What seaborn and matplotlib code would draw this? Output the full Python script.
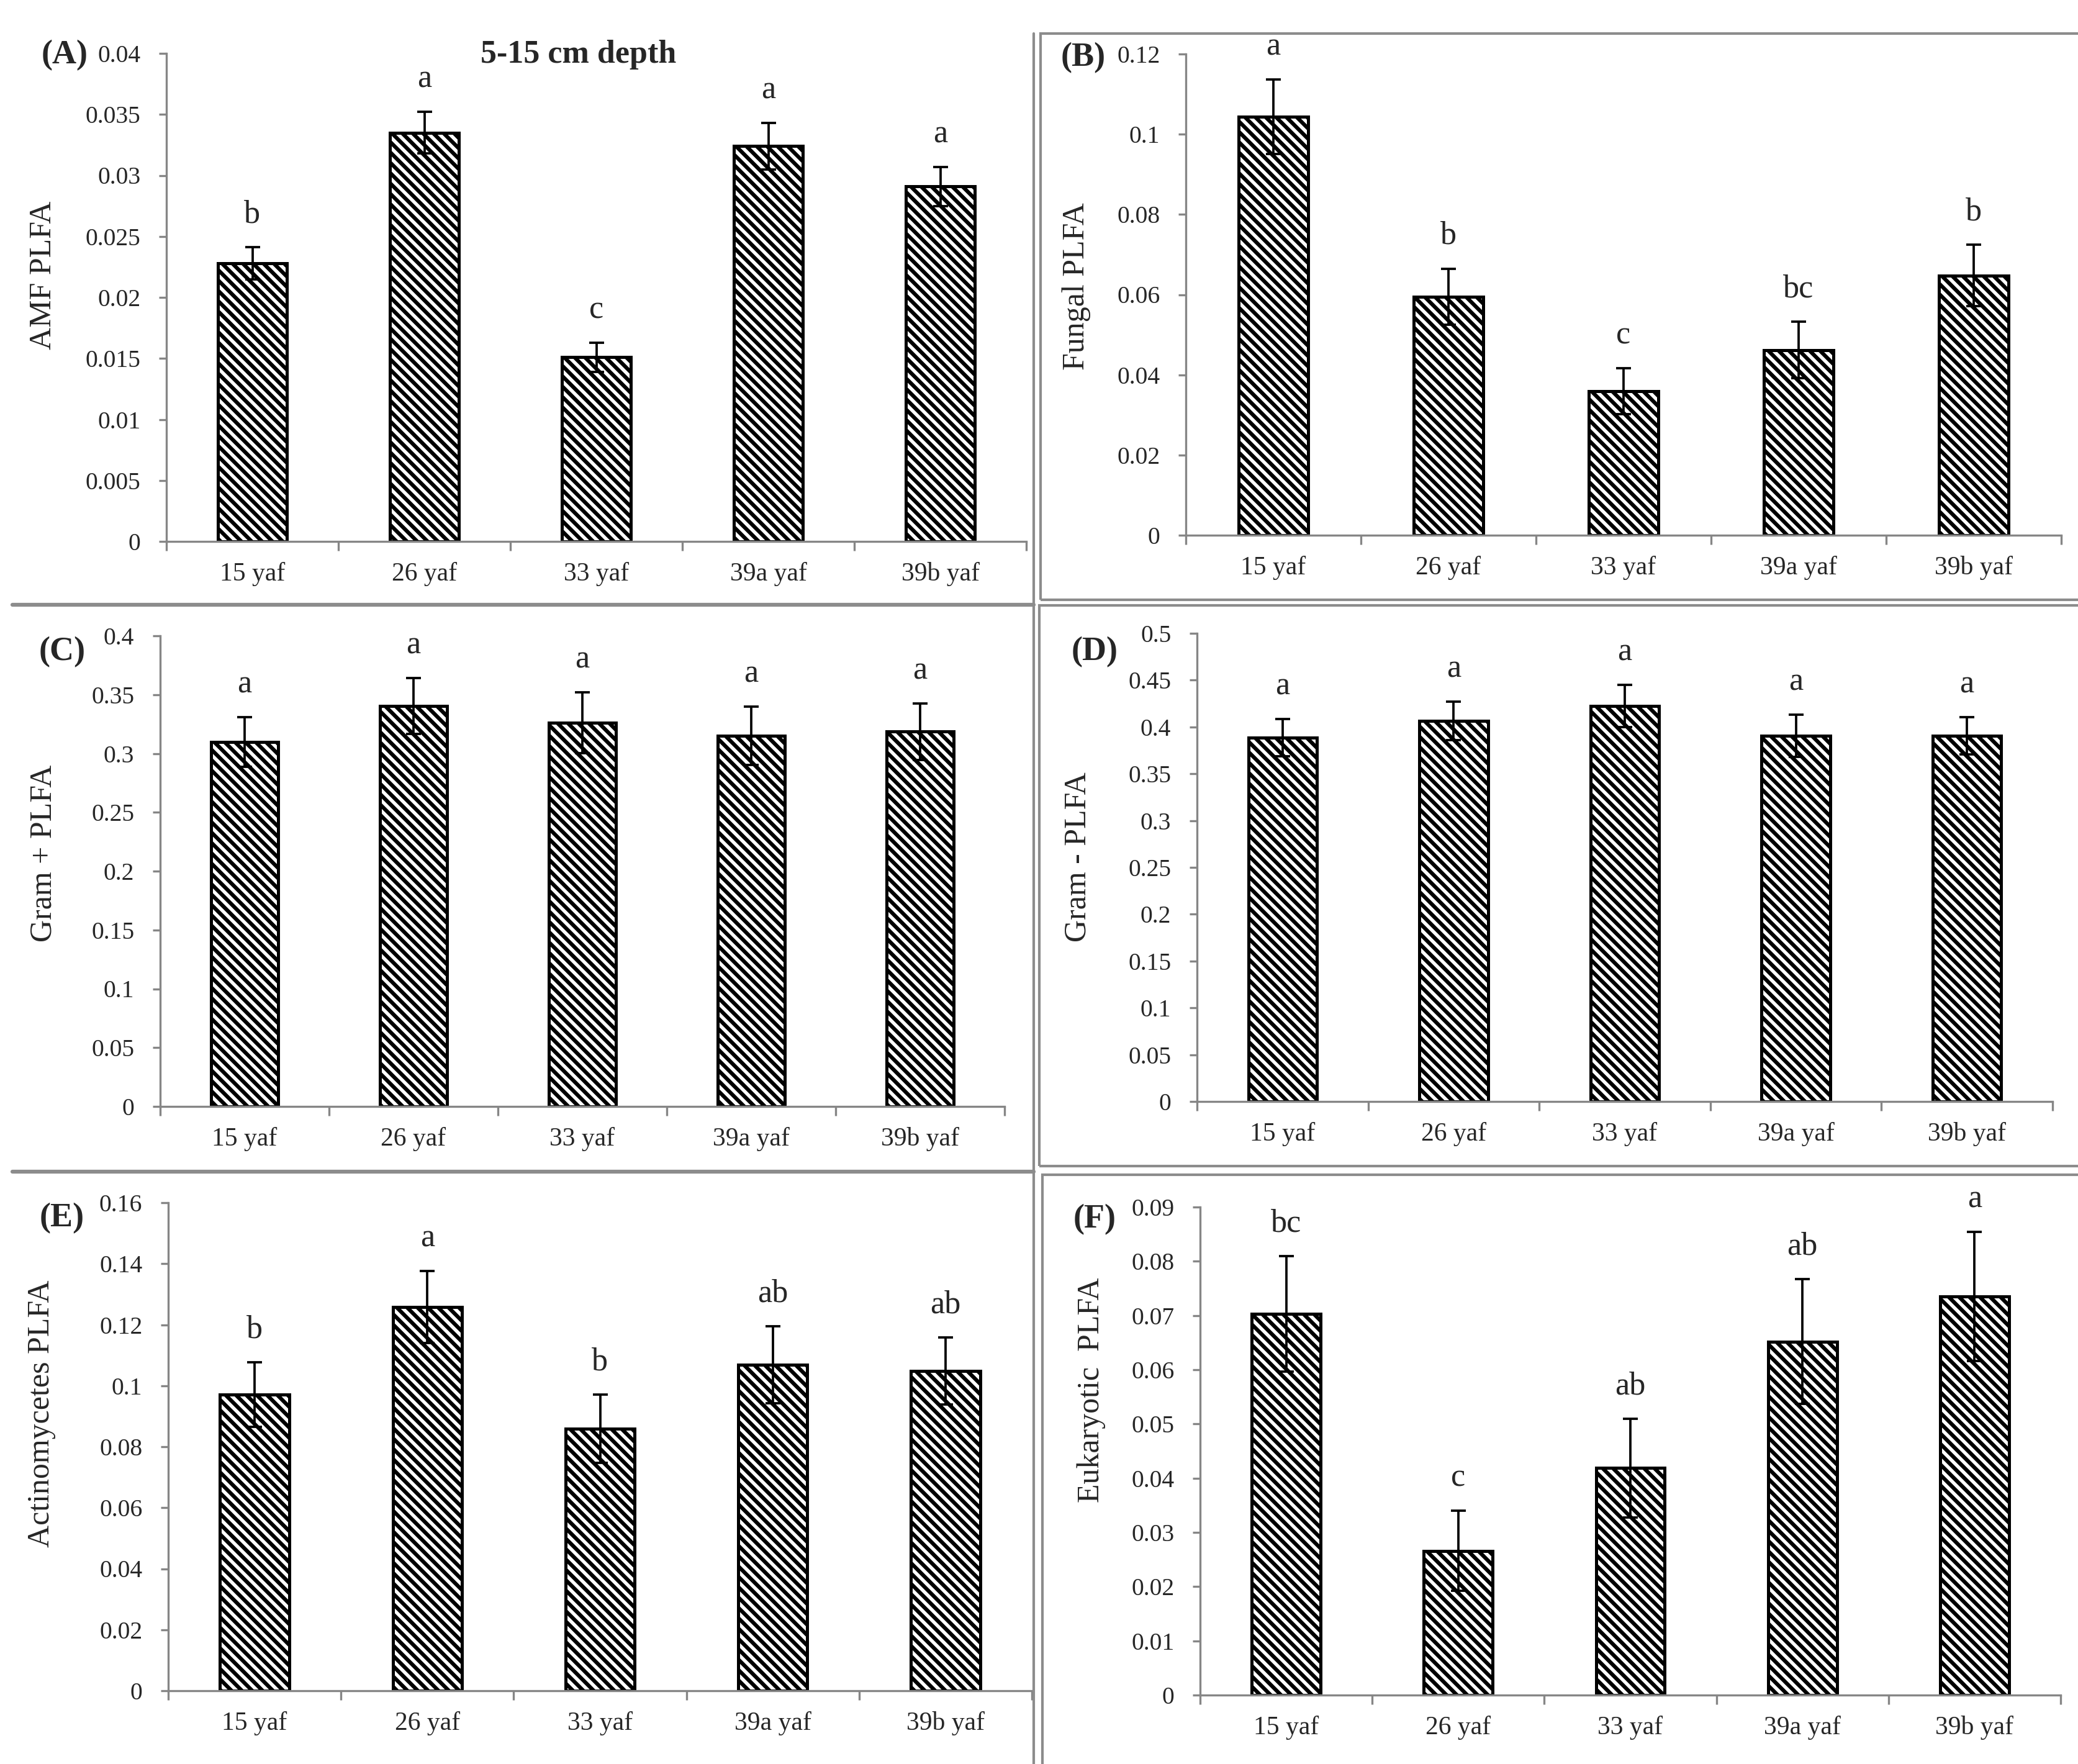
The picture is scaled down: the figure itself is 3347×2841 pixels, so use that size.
import numpy as np
import pandas as pd
import seaborn as sns
import matplotlib.pyplot as plt
from matplotlib.lines import Line2D
from matplotlib.patches import Rectangle
from matplotlib.ticker import FuncFormatter

# Categorias (anos despues de la forestacion)
categorias = ["15 yaf", "26 yaf", "33 yaf", "39a yaf", "39b yaf"]

# Valores (media y error)
amf = [0.0228, 0.0335, 0.0151, 0.0324, 0.0291]
amf_err = [0.0013, 0.0017, 0.0012, 0.0019, 0.0016]
amf_letras = ["b", "a", "c", "a", "a"]

fungal = [0.1044, 0.0595, 0.0359, 0.0462, 0.0648]
fungal_err = [0.0093, 0.0070, 0.0057, 0.0070, 0.0077]
fungal_letras = ["a", "b", "c", "bc", "b"]

gram_pos = [0.3098, 0.3404, 0.3261, 0.3150, 0.3185]
gram_pos_err = [0.0211, 0.0237, 0.0259, 0.0248, 0.0239]
gram_pos_letras = ["a", "a", "a", "a", "a"]

gram_neg = [0.3886, 0.4065, 0.4224, 0.3906, 0.3906]
gram_neg_err = [0.0199, 0.0206, 0.0226, 0.0228, 0.0199]
gram_neg_letras = ["a", "a", "a", "a", "a"]

actino = [0.0971, 0.1258, 0.0859, 0.1069, 0.1048]
actino_err = [0.0105, 0.0118, 0.0112, 0.0126, 0.0110]
actino_letras = ["b", "a", "b", "ab", "ab"]

euk = [0.0703, 0.0266, 0.0419, 0.0652, 0.0735]
euk_err = [0.0107, 0.0074, 0.0091, 0.0115, 0.0119]
euk_letras = ["bc", "c", "ab", "ab", "a"]

W, H = 3347, 2841
DPI = 300
GRIS = "#868686"
BORDE = "#8c8c8c"
HATCH = "\\" * 6

sns.set_theme(style="white")
plt.rcParams['font.family'] = ['Liberation Serif', 'DejaVu Serif']
plt.rcParams['hatch.linewidth'] = 1.5
plt.rcParams['hatch.color'] = 'black'


def fx(px):
    return px / W


def fy(py):
    return 1 - py / H


# (etiqueta, valores, errores, letras, eje y, ymax, paso, caja en px, pos etiqueta, pos ylabel)
paneles = [
    ("(A)", amf, amf_err, amf_letras, "AMF PLFA", 0.04, 0.005,
     (268, 86, 1653, 872), (104, 89), (70, 443)),
    ("(B)", fungal, fungal_err, fungal_letras, "Fungal PLFA", 0.12, 0.02,
     (1910, 87, 3320, 862), (1745, 93), (1734, 461)),
    ("(C)", gram_pos, gram_pos_err, gram_pos_letras, "Gram + PLFA", 0.4, 0.05,
     (258, 1024, 1618, 1782), (100, 1050), (70, 1374)),
    ("(D)", gram_neg, gram_neg_err, gram_neg_letras, "Gram - PLFA", 0.5, 0.05,
     (1928, 1020, 3306, 1774), (1763, 1050), (1736, 1380)),
    ("(E)", actino, actino_err, actino_letras, "Actinomycetes PLFA", 0.16, 0.02,
     (271, 1937, 1662, 2723), (100, 1962), (67, 2277)),
    ("(F)", euk, euk_err, euk_letras, "Eukaryotic  PLFA", 0.09, 0.01,
     (1933, 1944, 3319, 2730), (1763, 1964), (1758, 2239)),
]

fig = plt.figure(figsize=(W / DPI, H / DPI), dpi=DPI)

for etiqueta, vals, errs, letras, ylab, ymax, paso, caja, pos_lab, pos_ylab in paneles:
    l, t, r, b = caja
    ax = fig.add_axes([fx(l), fy(b), (r - l) / W, (b - t) / H])
    df = pd.DataFrame({"cat": categorias, "val": vals})
    sns.barplot(data=df, x="cat", y="val", color="white", saturation=1,
                edgecolor="black", linewidth=1.2, width=0.4, hatch=HATCH,
                errorbar=None, ax=ax)
    ax.errorbar(range(len(vals)), vals, yerr=errs, fmt="none", ecolor="black",
                elinewidth=0.9, capsize=2.9, capthick=0.9, zorder=5)
    for i, (v, e, letra) in enumerate(zip(vals, errs, letras)):
        ax.annotate(letra, xy=(i, v + e), xytext=(0, 9.5), textcoords="offset points",
                    ha="center", va="baseline", fontsize=12.5)

    ax.set_xlim(-0.5, len(vals) - 0.5)
    ax.set_ylim(0, ymax)
    ax.set_yticks(np.arange(0, ymax + paso / 2, paso))
    ax.yaxis.set_major_formatter(FuncFormatter(lambda v, _: f"{round(v, 6):g}"))
    ax.set_xticks(np.arange(-0.5, len(vals), 1), minor=True)
    sns.despine(ax=ax)
    for s in ("left", "bottom"):
        ax.spines[s].set_color(GRIS)
        ax.spines[s].set_linewidth(0.8)
    ax.tick_params(axis="y", direction="out", length=3, width=0.8, color=GRIS,
                   pad=7, labelsize=9.5, left=True)
    ax.tick_params(axis="x", which="major", length=0, pad=8, labelsize=10)
    ax.tick_params(axis="x", which="minor", direction="out", length=3.5, width=0.8,
                   color=GRIS, bottom=True)
    ax.set_xlabel("")
    ax.set_ylabel(ylab, fontsize=12, ha="center", va="center")
    ax.yaxis.set_label_coords((pos_ylab[0] - l) / (r - l), (b - pos_ylab[1]) / (b - t))

    fig.text(fx(pos_lab[0]), fy(pos_lab[1]), etiqueta, fontsize=13,
             fontweight="bold", ha="center", va="center")

fig.text(fx(932), fy(88), "5-15 cm depth", fontsize=12.5, fontweight="bold",
         ha="center", va="center")

# Bordes de los paneles (estilo Excel)
fig.add_artist(Line2D([fx(1665), fx(1665)], [fy(54), fy(H + 10)], color=BORDE,
                      lw=1.0, transform=fig.transFigure))
for yy in (974, 1887):
    fig.add_artist(Line2D([fx(20), fx(1665)], [fy(yy), fy(yy)], color=BORDE,
                          lw=1.5, transform=fig.transFigure))
for x0, y0, y1 in [(1676, 54, 966), (1674, 975, 1878), (1679, 1892, H + 40)]:
    fig.add_artist(Rectangle((fx(x0), fy(y1)), fx(W + 40) - fx(x0), (y1 - y0) / H,
                             fill=False, edgecolor=BORDE, lw=1.0,
                             transform=fig.transFigure))

fig.savefig("out.png", dpi=DPI, facecolor="white")
